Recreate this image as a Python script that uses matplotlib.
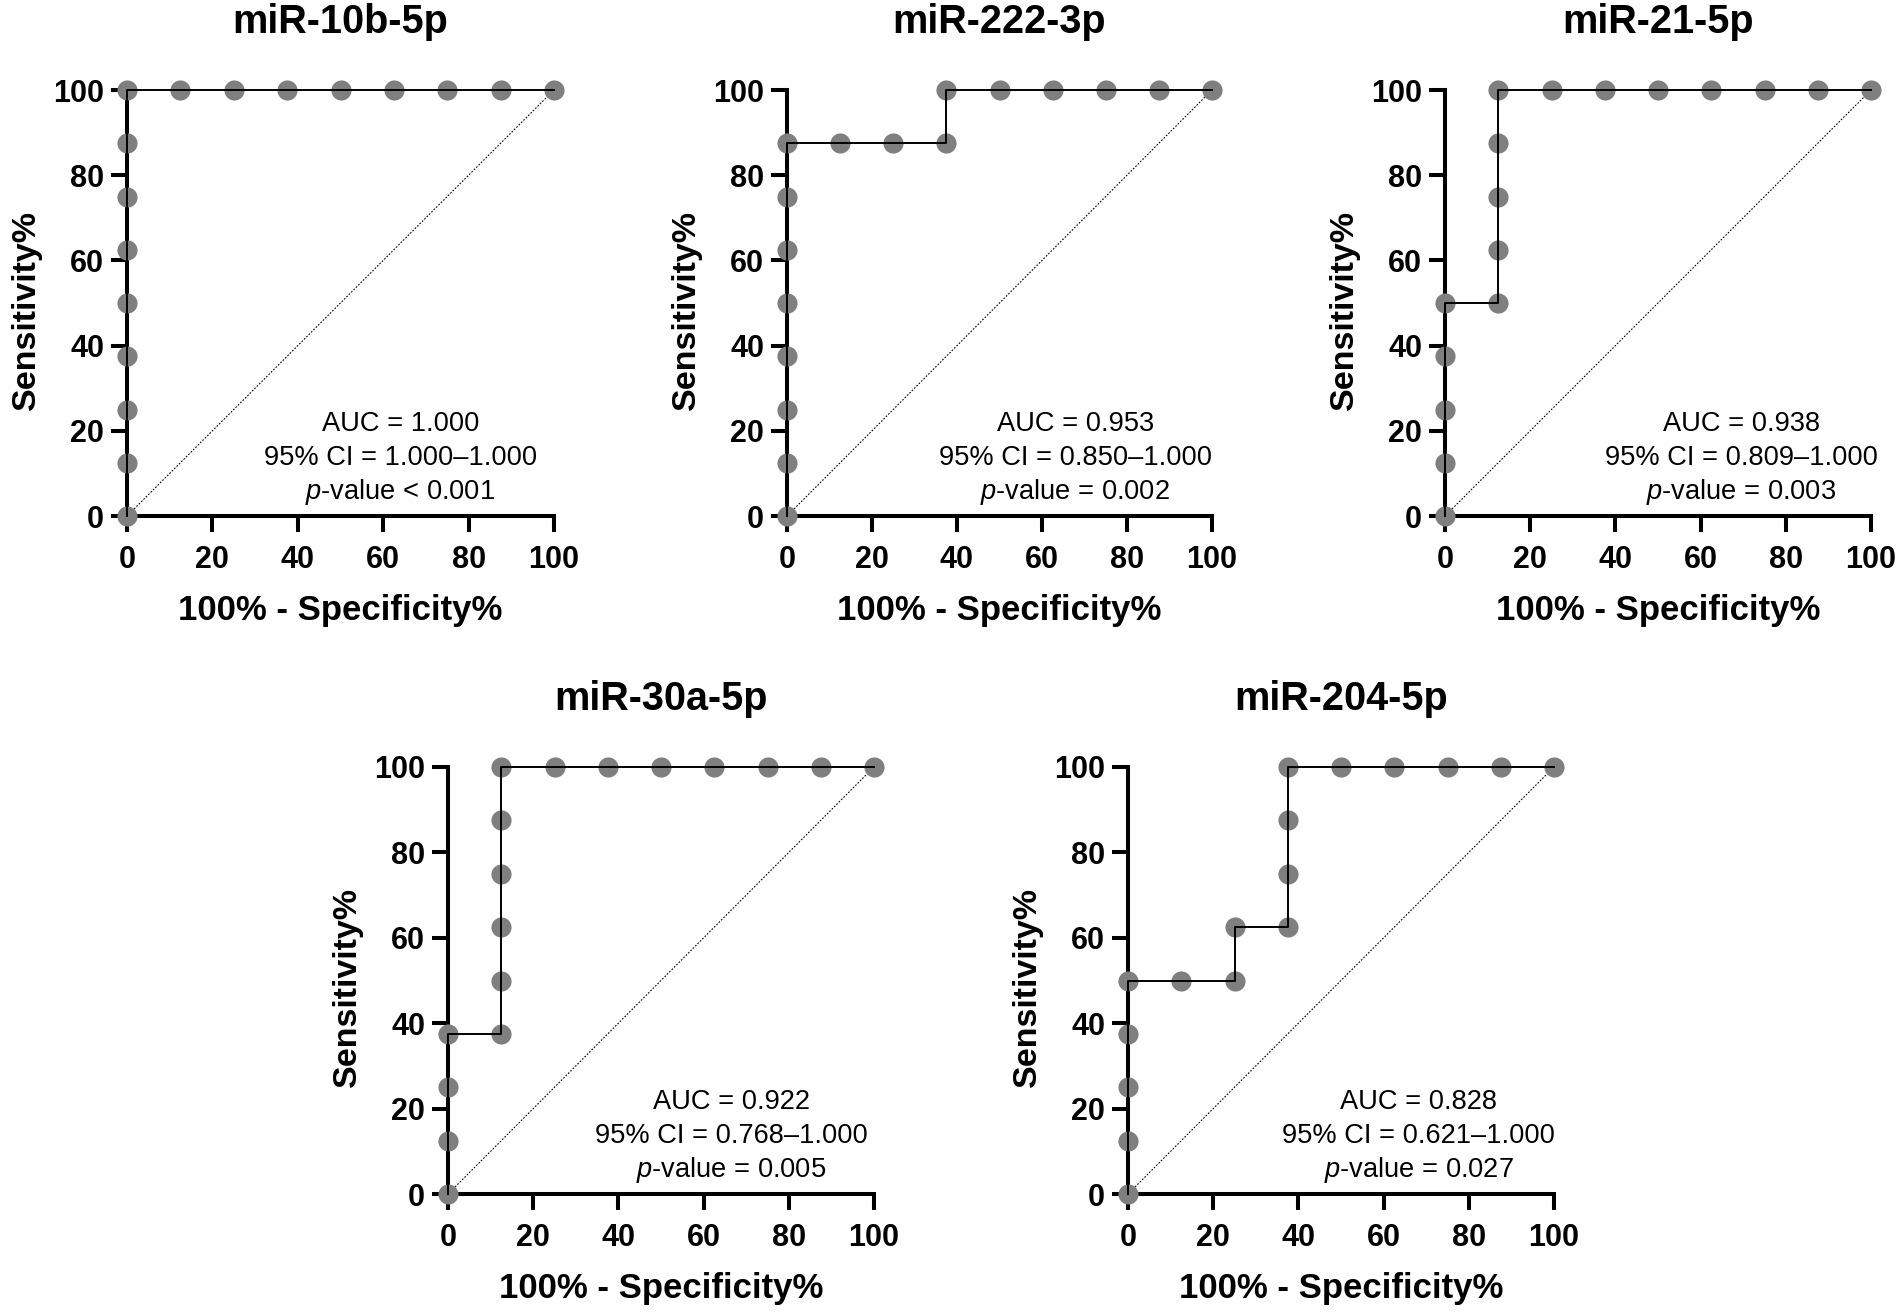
import matplotlib
matplotlib.use("Agg")
import matplotlib.pyplot as plt

plt.rcParams['font.family'] = ['Liberation Sans', 'DejaVu Sans']
plt.rcParams['mathtext.fontset'] = 'custom'
plt.rcParams['mathtext.rm'] = 'Liberation Sans'
plt.rcParams['mathtext.it'] = 'Liberation Sans:italic'

titles = ["miR-10b-5p", "miR-222-3p", "miR-21-5p", "miR-30a-5p", "miR-204-5p"]

# 100% - Specificity% (x) and Sensitivity% (y) for each ROC curve
x_10b = [0, 0, 0, 0, 0, 0, 0, 0, 0, 12.5, 25, 37.5, 50, 62.5, 75, 87.5, 100]
y_10b = [0, 12.5, 25, 37.5, 50, 62.5, 75, 87.5, 100, 100, 100, 100, 100, 100, 100, 100, 100]

x_222 = [0, 0, 0, 0, 0, 0, 0, 0, 12.5, 25, 37.5, 37.5, 50, 62.5, 75, 87.5, 100]
y_222 = [0, 12.5, 25, 37.5, 50, 62.5, 75, 87.5, 87.5, 87.5, 87.5, 100, 100, 100, 100, 100, 100]

x_21 = [0, 0, 0, 0, 0, 12.5, 12.5, 12.5, 12.5, 12.5, 25, 37.5, 50, 62.5, 75, 87.5, 100]
y_21 = [0, 12.5, 25, 37.5, 50, 50, 62.5, 75, 87.5, 100, 100, 100, 100, 100, 100, 100, 100]

x_30a = [0, 0, 0, 0, 12.5, 12.5, 12.5, 12.5, 12.5, 12.5, 25, 37.5, 50, 62.5, 75, 87.5, 100]
y_30a = [0, 12.5, 25, 37.5, 37.5, 50, 62.5, 75, 87.5, 100, 100, 100, 100, 100, 100, 100, 100]

x_204 = [0, 0, 0, 0, 0, 12.5, 25, 25, 37.5, 37.5, 37.5, 37.5, 50, 62.5, 75, 87.5, 100]
y_204 = [0, 12.5, 25, 37.5, 50, 50, 50, 62.5, 62.5, 75, 87.5, 100, 100, 100, 100, 100, 100]

xs = [x_10b, x_222, x_21, x_30a, x_204]
ys = [y_10b, y_222, y_21, y_30a, y_204]

auc = ["1.000", "0.953", "0.938", "0.922", "0.828"]
ci = ["1.000–1.000", "0.850–1.000", "0.809–1.000", "0.768–1.000", "0.621–1.000"]
pval = ["< 0.001", "= 0.002", "= 0.003", "= 0.005", "= 0.027"]

ticks = [0, 20, 40, 60, 80, 100]

W, H = 1904, 1312
fig = plt.figure(figsize=(W / 100, H / 100), dpi=100)

# axes boxes in pixels: left, top, right, bottom
boxes = [
    (127, 90, 554, 516),
    (787, 90, 1212, 516),
    (1445, 90, 1871, 516),
    (448, 767, 874, 1194),
    (1128, 767, 1554, 1194),
]
text_x = [64, 67.8, 69.5, 66.5, 68.2]

for i, (l, t, r, b) in enumerate(boxes):
    ax = fig.add_axes([l / W, 1 - b / H, (r - l) / W, (b - t) / H])
    ax.set_xlim(0, 100)
    ax.set_ylim(0, 100)
    ax.plot([0, 100], [0, 100], color='black', lw=0.8, ls=(0, (1.5, 1.5)), zorder=1)
    ax.plot(xs[i], ys[i], ls='none', marker='o', ms=14.5, color='#7f7f7f',
            mec='none', clip_on=False, zorder=2)
    ax.plot(xs[i], ys[i], color='black', lw=1.4, clip_on=False, zorder=3)
    for s in ['top', 'right']:
        ax.spines[s].set_visible(False)
    for s in ['left', 'bottom']:
        ax.spines[s].set_linewidth(2.9)
        ax.spines[s].set_zorder(1.5)
    ax.set_xticks(ticks)
    ax.set_yticks(ticks)
    ax.tick_params(direction='out', length=11.5, width=2.9, labelsize=22)
    ax.tick_params(axis='x', pad=9.5)
    ax.tick_params(axis='y', pad=5)
    for lab in ax.get_xticklabels() + ax.get_yticklabels():
        lab.set_fontweight('bold')
    hpx = b - t
    wpx = r - l
    ax.text(0.5, 1 + 57 / hpx, titles[i], transform=ax.transAxes, ha='center',
            va='baseline', fontsize=28.5, fontweight='bold')
    ax.text(0.5, -104 / hpx, "100% - Specificity%", transform=ax.transAxes, ha='center',
            va='baseline', fontsize=25, fontweight='bold')
    ax.text(-92 / wpx, 0.484, "Sensitivity%", transform=ax.transAxes, ha='center',
            va='baseline', rotation=90, rotation_mode='anchor', fontsize=24.5,
            fontweight='bold')
    tx = text_x[i]
    ax.text(tx, 19.9, f"AUC = {auc[i]}", ha='center', va='baseline', fontsize=19.6)
    ax.text(tx, 12.0, f"95% CI = {ci[i]}", ha='center', va='baseline', fontsize=19.6)
    ax.text(tx, 4.0, r"$\mathit{p}$" + f"-value {pval[i]}", ha='center', va='baseline',
            fontsize=19.6)

fig.savefig("out.png", dpi=100)
